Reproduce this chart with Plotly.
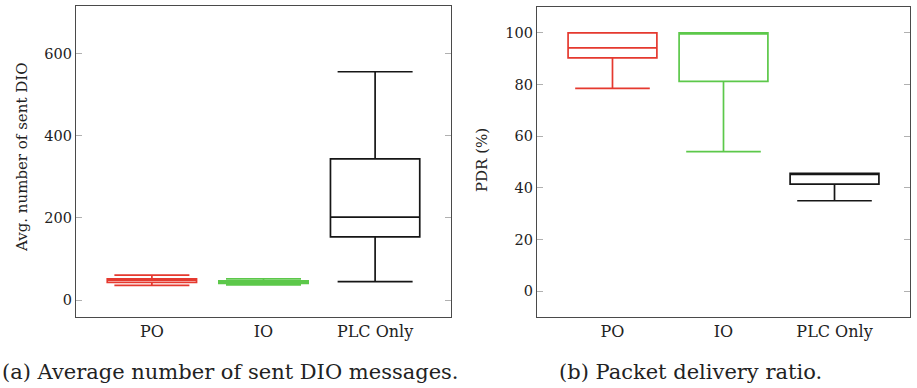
import plotly.graph_objects as go

# Box categories and positions
categories = ["PO", "IO", "PLC Only"]
positions = [1, 2, 3]
colors = ["#e5392f", "#5cc84a", "#161616"]

# (a) Average number of sent DIO messages: five-number summaries
dio_lower = [36, 37, 45]
dio_q1 = [43, 41, 154]
dio_median = [48, 45, 202]
dio_q3 = [52, 47, 344]
dio_upper = [61, 52, 556]
dio_ticks = [0, 200, 400, 600]

# (b) Packet delivery ratio (%): five-number summaries
pdr_lower = [78.5, 54, 35]
pdr_q1 = [90.3, 81.2, 41.4]
pdr_median = [94.2, 99.6, 45.2]
pdr_q3 = [100, 100, 45.6]
pdr_upper = [100, 100, 45.6]
pdr_ticks = [0, 20, 40, 60, 80, 100]

W, H = 917, 388
FONT = "DejaVu Serif"

fig = go.Figure()


def add_boxes(lower, q1, med, q3, upper, xa, ya):
    for pos, c, lo, a, m, b, hi in zip(positions, colors, lower, q1, med, q3, upper):
        fig.add_trace(go.Box(
            x=[pos], lowerfence=[lo], q1=[a], median=[m], q3=[b], upperfence=[hi],
            xaxis=xa, yaxis=ya, width=0.8, whiskerwidth=0.84,
            line=dict(color=c, width=1.7), fillcolor="rgba(255,255,255,0)",
            boxpoints=False, showlegend=False, hoverinfo="skip",
        ))


add_boxes(dio_lower, dio_q1, dio_median, dio_q3, dio_upper, "x", "y")
add_boxes(pdr_lower, pdr_q1, pdr_median, pdr_q3, pdr_upper, "x2", "y2")

frame = dict(showline=True, linecolor="#4a4a4a", linewidth=1.2, mirror=True,
             showgrid=False, zeroline=False)
xcommon = dict(frame, range=[0.32, 3.68], tickvals=positions, ticktext=categories,
               ticks="", tickfont=dict(family=FONT, size=16, color="#222"))
ycommon = dict(frame, ticks="inside", ticklen=6, tickwidth=1.2, tickcolor="#b0b0b0",
               mirror="allticks", tickfont=dict(family=FONT, size=14.5, color="#222"))

fig.update_layout(
    width=W, height=H, margin=dict(l=0, r=0, t=0, b=0),
    paper_bgcolor="white", plot_bgcolor="white", boxmode="overlay",
    font=dict(family=FONT),
    xaxis=dict(xcommon, domain=[76 / W, 451 / W], anchor="y"),
    yaxis=dict(ycommon, domain=[71 / H, 382 / H], range=[-41, 716],
               tickvals=dio_ticks, anchor="x"),
    xaxis2=dict(xcommon, domain=[537 / W, 910 / W], anchor="y2"),
    yaxis2=dict(ycommon, domain=[71 / H, 381 / H], range=[-10, 110],
                tickvals=pdr_ticks, anchor="x2"),
)

annotations = [
    dict(text="Avg. number of sent DIO", x=22 / W, y=(H - 158) / H, textangle=-90,
         font=dict(size=15)),
    dict(text="PDR (%)", x=482 / W, y=(H - 160) / H, textangle=-90, font=dict(size=15)),
    dict(text="(a) Average number of sent DIO messages.", x=230 / W, y=(H - 372) / H,
         font=dict(size=21)),
    dict(text="(b) Packet delivery ratio.", x=690 / W, y=(H - 372) / H,
         font=dict(size=21)),
]
for a in annotations:
    a.update(xref="paper", yref="paper", showarrow=False, xanchor="center",
             yanchor="middle")
    a["font"].update(family=FONT, color="#222")
fig.update_layout(annotations=annotations)

fig.write_html("out.html")
